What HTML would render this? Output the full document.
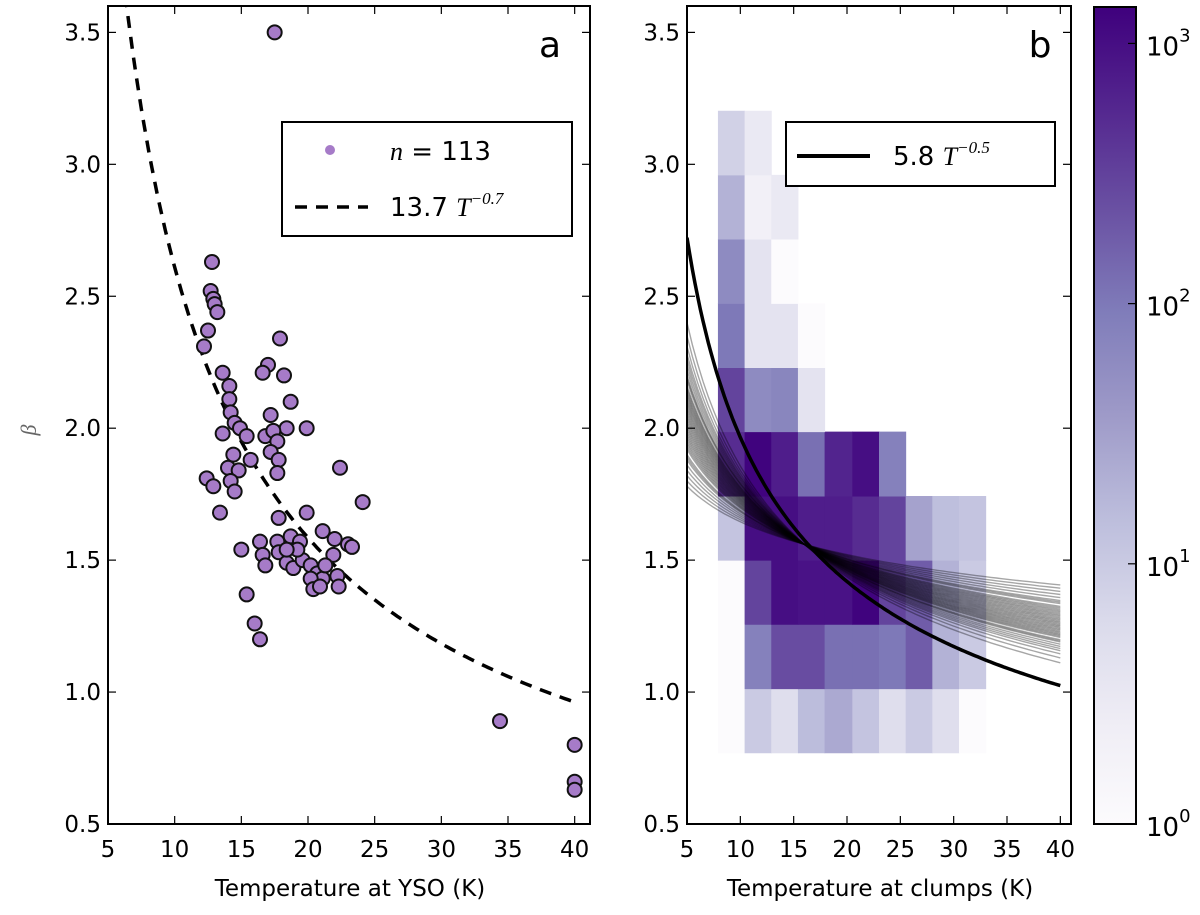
<!DOCTYPE html>
<html><head><meta charset="utf-8">
<style>
body{margin:0;background:#fff;}
svg{display:block;font-family:"DejaVu Sans","Liberation Sans",sans-serif;}
</style></head>
<body>
<svg id="fig" width="1200" height="915" viewBox="0 0 1200 915" xmlns="http://www.w3.org/2000/svg">
<defs>
<linearGradient id="cbgrad" x1="0" y1="1" x2="0" y2="0">
<stop offset="0" stop-color="#fcfbfd"/><stop offset="0.125" stop-color="#efedf5"/><stop offset="0.25" stop-color="#dadaeb"/><stop offset="0.375" stop-color="#bcbddc"/><stop offset="0.5" stop-color="#9e9ac8"/><stop offset="0.625" stop-color="#807dba"/><stop offset="0.75" stop-color="#6a51a3"/><stop offset="0.875" stop-color="#54278f"/><stop offset="1" stop-color="#3f007d"/>
</linearGradient>
<clipPath id="clipA"><rect x="108" y="6" width="482" height="818"/></clipPath>
<clipPath id="clipB"><rect x="687" y="6" width="384" height="818"/></clipPath>
</defs>
<g id="panelA"></g>
<g id="panelB"></g>
<g id="cbar"></g>
</svg>
<script>
// ---- Panel a data ----
const ysoTemp = [17.5,12.8,12.7,12.9,13.0,13.2,12.5,12.2,17.9,17.0,16.6,18.2,18.7,17.2,19.9,18.4,16.8,17.4,17.7,17.2,17.8,17.7,22.4,24.1,19.9,17.8,13.4,13.6,14.1,14.1,14.2,14.5,14.9,15.4,13.6,15.7,14.4,14.0,14.8,12.4,12.9,14.2,14.5,15.0,16.4,16.6,16.8,17.7,18.7,19.4,21.1,22.0,23.0,23.3,17.8,18.4,18.9,19.6,20.2,20.7,21.1,20.2,20.4,20.9,21.9,22.2,22.3,15.4,16.0,16.4,21.3,19.2,18.4,34.4,40.0,40.0,40.0];
const ysoBeta = [3.50,2.63,2.52,2.49,2.47,2.44,2.37,2.31,2.34,2.24,2.21,2.20,2.10,2.05,2.00,2.00,1.97,1.99,1.95,1.91,1.88,1.83,1.85,1.72,1.68,1.66,1.68,2.21,2.16,2.11,2.06,2.02,2.00,1.97,1.98,1.88,1.90,1.85,1.84,1.81,1.78,1.80,1.76,1.54,1.57,1.52,1.48,1.57,1.59,1.57,1.61,1.58,1.56,1.55,1.53,1.49,1.47,1.50,1.48,1.45,1.43,1.43,1.39,1.40,1.52,1.44,1.40,1.37,1.26,1.20,1.48,1.54,1.54,0.89,0.80,0.66,0.63];
const fitA = [13.7, -0.72];
const xTicks = [5,10,15,20,25,30,35,40];
const yTicks = [0.5,1.0,1.5,2.0,2.5,3.0,3.5];
// ---- Panel b data ----
const binTemps = [7.9,10.4,12.9,15.4,17.9,20.5,23.0,25.5,28.0,30.5,33.0];
const binBetas = [0.77,1.013,1.257,1.50,1.743,1.987,2.23,2.473,2.717,2.96,3.203];
const countsRow0 = [1,10,5,15,25,12,5,10,5,1];
const countsRow1 = [1,80,250,250,120,120,100,180,20,10];
const countsRow2 = [1,300,1000,900,900,1300,300,180,20,10];
const countsRow3 = [12,1000,1000,700,700,500,300,30,14,12];
const countsRow4 = [500,1300,700,120,600,1000,80,0,0,0];
const countsRow5 = [300,60,70,4,0,0,0,0,0,0];
const countsRow6 = [100,4,4,1,0,0,0,0,0,0];
const countsRow7 = [60,4,1,0,0,0,0,0,0,0];
const countsRow8 = [20,2,3,0,0,0,0,0,0,0];
const countsRow9 = [8,3,0,0,0,0,0,0,0,0];
const fitB = [5.8, -0.47];
const ensembleStartBeta = [1.78,1.80,1.82,1.84,1.86,1.88,1.89,1.90,1.92,1.93,1.94,1.95,1.96,1.97,1.98,1.99,2.00,2.01,2.02,2.03,2.04,2.05,2.06,2.07,2.08,2.09,2.10,2.11,2.12,2.13,2.14,2.15,2.16,2.18,2.19,2.20,2.22,2.24,2.26,2.28,2.31,2.35,2.40];
const pivot = [16, 1.56];
const cbTicks = [0,1,2,3];
const cbMaxLog = 3.14;

const NS="http://www.w3.org/2000/svg";
function mk(tag,attrs,parent){const e=document.createElementNS(NS,tag);for(const k in attrs)e.setAttribute(k,attrs[k]);parent.appendChild(e);return e;}
const yMin=0.5,yMax=3.6,plotTop=6,plotBot=824;
function yS(b){return plotBot-(b-yMin)/(yMax-yMin)*(plotBot-plotTop);}
const xA=t=>108+(t-5)/(41.15-5)*482;
const xB=t=>687+(t-5)/(41.0-5)*384;

function axes(g,x0,x1,xs,name){
  xTicks.forEach(t=>{const x=xs(t);
    mk('line',{x1:x,x2:x,y1:plotBot,y2:plotBot-8,stroke:'#000','stroke-width':1.2},g);
    mk('line',{x1:x,x2:x,y1:plotTop,y2:plotTop+8,stroke:'#000','stroke-width':1.2},g);
    const tx=mk('text',{x:x,y:plotBot+33,'text-anchor':'middle','font-size':23},g);tx.textContent=t;
    
    
  });
  yTicks.forEach(v=>{const y=yS(v);
    mk('line',{x1:x0,x2:x0+8,y1:y,y2:y,stroke:'#000','stroke-width':1.2},g);
    mk('line',{x1:x1,x2:x1-8,y1:y,y2:y,stroke:'#000','stroke-width':1.2},g);
    const tx=mk('text',{x:x0-7,y:y+8,'text-anchor':'end','font-size':23},g);tx.textContent=v.toFixed(1);
    
    
  });
  const r=mk('rect',{x:x0,y:plotTop,width:x1-x0,height:plotBot-plotTop,fill:'none',stroke:'#000','stroke-width':2},g);
  
  
}
function purples(t){
  const st=[[252,251,253],[239,237,245],[218,218,235],[188,189,220],[158,154,200],[128,125,186],[106,81,163],[84,39,143],[63,0,125]];
  t=Math.max(0,Math.min(1,t))*8;const i=Math.min(7,Math.floor(t)),f=t-i;
  const c=st[i].map((v,k)=>Math.round(v+(st[i+1][k]-v)*f));return `rgb(${c})`;
}
// ---- Panel a ----
const gA=document.getElementById('panelA');
const cA=mk('g',{'clip-path':'url(#clipA)'},gA);
let d='';for(let t=6.3;t<=40.001;t+=0.2){const v=fitA[0]*Math.pow(t,fitA[1]);d+=(d?'L':'M')+xA(t).toFixed(1)+','+yS(v).toFixed(1);}
const fa=mk('path',{d:d,fill:'none',stroke:'#000','stroke-width':3.5,'stroke-dasharray':'12,9'},cA);


for(let i=0;i<ysoTemp.length;i++){
  const c=mk('circle',{cx:xA(ysoTemp[i]),cy:yS(ysoBeta[i]),r:7,fill:'#a67bc8',stroke:'#111','stroke-width':2},cA);
  
  
}
axes(gA,108,590,xA,'panel-a');
let t1=mk('text',{x:350,y:896,'text-anchor':'middle','font-size':23},gA);t1.textContent='Temperature at YSO (K)';

let yl=mk('text',{x:36,y:430,'text-anchor':'middle','font-size':22,fill:'#666','font-family':'Liberation Serif, serif','font-style':'italic',transform:'rotate(-90 36 430)'},gA);yl.textContent='β';

let la=mk('text',{x:550,y:57,'text-anchor':'middle','font-size':36},gA);la.textContent='a';

const lg=mk('g',{},gA);
mk('rect',{x:282,y:122,width:290,height:114,fill:'#fff',stroke:'#000','stroke-width':2},lg);
mk('circle',{cx:330,cy:150,r:5,fill:'#a67bc8'},lg);
let le1=mk('text',{x:390,y:160,'font-size':26},lg);le1.innerHTML='<tspan font-family="Liberation Serif,serif" font-style="italic">n</tspan> = 113';
mk('line',{x1:295,x2:368,y1:207,y2:207,stroke:'#000','stroke-width':3.5,'stroke-dasharray':'12,9'},lg);
let le2=mk('text',{x:390,y:216,'font-size':26},lg);le2.innerHTML='13.7 <tspan font-family="Liberation Serif,serif" font-style="italic">T</tspan><tspan font-size="17" dy="-12" font-family="Liberation Serif,serif" font-style="italic">−0.7</tspan>';
// ---- Panel b ----
const gB=document.getElementById('panelB');
const cB=mk('g',{'clip-path':'url(#clipB)'},gB);
const rows=[countsRow0,countsRow1,countsRow2,countsRow3,countsRow4,countsRow5,countsRow6,countsRow7,countsRow8,countsRow9];
rows.forEach((row,ri)=>row.forEach((n,ci)=>{
  if(n<=0)return;
  const x0=xB(binTemps[ci]),x1=xB(binTemps[ci+1]),y0=yS(binBetas[ri+1]),y1=yS(binBetas[ri]);
  const r=mk('rect',{x:x0,y:y0,width:x1-x0+0.5,height:y1-y0+0.5,fill:purples(Math.log10(n)/cbMaxLog)},cB);
  
  
}));
ensembleStartBeta.forEach(b5=>{
  const p=Math.log(b5/pivot[1])/Math.log(pivot[0]/5);
  let dd='';for(let t=5;t<=40.001;t+=0.5){const v=pivot[1]*Math.pow(t/pivot[0],-p);dd+=(dd?'L':'M')+xB(t).toFixed(1)+','+yS(v).toFixed(1);}
  const pl=mk('path',{d:dd,fill:'none',stroke:'#000','stroke-opacity':0.35,'stroke-width':1.4},cB);
  
  
});
d='';for(let t=5;t<=40.001;t+=0.25){const v=fitB[0]*Math.pow(t,fitB[1]);d+=(d?'L':'M')+xB(t).toFixed(1)+','+yS(v).toFixed(1);}
const fb=mk('path',{d:d,fill:'none',stroke:'#000','stroke-width':3.5},cB);


axes(gB,687,1071,xB,'panel-b');
let t2=mk('text',{x:880,y:896,'text-anchor':'middle','font-size':23},gB);t2.textContent='Temperature at clumps (K)';

let lb=mk('text',{x:1040,y:57,'text-anchor':'middle','font-size':36},gB);lb.textContent='b';

const lgb=mk('g',{},gB);
mk('rect',{x:786,y:122,width:269,height:64,fill:'#fff',stroke:'#000','stroke-width':2},lgb);
mk('line',{x1:797,x2:870,y1:156,y2:156,stroke:'#000','stroke-width':4},lgb);
let le3=mk('text',{x:893,y:165,'font-size':26},lgb);le3.innerHTML='5.8 <tspan font-family="Liberation Serif,serif" font-style="italic">T</tspan><tspan font-size="17" dy="-12" font-family="Liberation Serif,serif" font-style="italic">−0.5</tspan>';
// ---- Colorbar ----
const gC=document.getElementById('cbar');
const cbTop=7,cbBot=824,cbX=1094,cbW=42;
mk('rect',{x:cbX,y:cbTop,width:cbW,height:cbBot-cbTop,fill:'url(#cbgrad)',stroke:'#000','stroke-width':2},gC);
cbTicks.forEach(k=>{const y=cbBot-k/cbMaxLog*(cbBot-cbTop);
  mk('line',{x1:cbX+cbW-8,x2:cbX+cbW,y1:y,y2:y,stroke:'#000','stroke-width':1.2},gC);
  const tx=mk('text',{x:cbX+cbW+10,y:y+12,'font-size':26},gC);tx.innerHTML='10<tspan font-size="18" dy="-14">'+k+'</tspan>';
  
  
});
</script>
</body></html>
